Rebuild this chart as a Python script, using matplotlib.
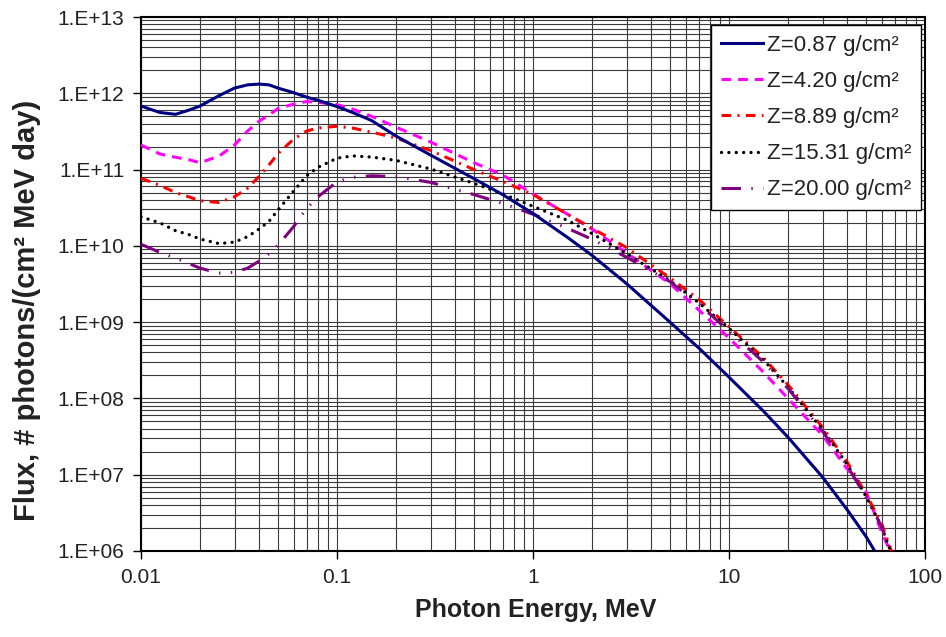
import numpy as np
import matplotlib as mpl
mpl.use('Agg')
import matplotlib.pyplot as plt
from matplotlib.ticker import LogLocator, FuncFormatter, NullFormatter

mpl.rcParams['font.family'] = ['Liberation Sans', 'DejaVu Sans']
mpl.rcParams['lines.scale_dashes'] = False

# Photon energy, MeV
energy = [0.01, 0.0125, 0.015, 0.0175, 0.02, 0.025, 0.03, 0.035, 0.04, 0.045, 0.05, 0.06, 0.07, 0.08,
          0.1, 0.12, 0.15, 0.2, 0.3, 0.5, 0.7, 1, 1.5, 2, 3, 5, 7, 10, 15, 20, 30, 40, 50, 60, 70]

# Flux, photons/(cm2 MeV day)
flux_087 = [6.8e11, 5.6e11, 5.3e11, 6.0e11, 6.8e11, 9.3e11, 1.17e12, 1.29e12, 1.32e12, 1.29e12, 1.17e12,
            1.02e12, 8.9e11, 8.1e11, 6.7e11, 5.6e11, 4.4e11, 2.75e11, 1.55e11, 7.6e10, 4.7e10, 2.66e10,
            1.29e10, 7.5e9, 3.2e9, 1.0e9, 4.6e8, 1.9e8, 6.8e7, 3.1e7, 9.3e6, 3.5e6, 1.55e6, 7.1e5, 3.2e5]
flux_420 = [2.1e11, 1.6e11, 1.45e11, 1.35e11, 1.23e11, 1.5e11, 2.1e11, 3.2e11, 4.3e11, 5.2e11, 6.3e11,
            7.2e11, 7.8e11, 7.6e11, 7.1e11, 6.2e11, 5.0e11, 3.6e11, 2.3e11, 1.23e11, 8.5e10, 4.8e10,
            2.6e10, 1.66e10, 8.1e9, 3.2e9, 1.45e9, 6.2e8, 2.2e8, 1.0e8, 3.3e7, 1.2e7, 6.0e6, 1.8e6, 7.2e5]
flux_889 = [7.7e10, 6.2e10, 5.0e10, 4.4e10, 3.9e10, 3.7e10, 4.4e10, 5.7e10, 8.1e10, 1.15e11, 1.62e11,
            2.5e11, 3.2e11, 3.5e11, 3.7e11, 3.5e11, 3.1e11, 2.6e11, 1.78e11, 1.0e11, 7.0e10, 4.7e10,
            2.6e10, 1.7e10, 9.5e9, 3.8e9, 2.0e9, 8.7e8, 3.4e8, 1.51e8, 4.2e7, 1.48e7, 5.6e6, 2.3e6, 7.6e5]
flux_1531 = [2.4e10, 2.0e10, 1.58e10, 1.41e10, 1.23e10, 1.07e10, 1.12e10, 1.32e10, 1.66e10, 2.1e10, 2.95e10,
             5.2e10, 8.3e10, 1.07e11, 1.41e11, 1.51e11, 1.46e11, 1.32e11, 1.02e11, 6.6e10, 4.8e10, 3.3e10,
             2.16e10, 1.45e10, 7.9e9, 3.5e9, 1.8e9, 8.3e8, 3.2e8, 1.41e8, 3.9e7, 1.38e7, 5.2e6, 2.1e6, 7.1e5]
flux_2000 = [1.05e10, 8.2e9, 6.9e9, 5.9e9, 5.1e9, 4.4e9, 4.5e9, 5.1e9, 6.3e9, 7.9e9, 1.02e10,
             1.78e10, 3.1e10, 4.4e10, 6.9e10, 7.9e10, 8.3e10, 8.1e10, 6.8e10, 4.7e10, 3.6e10, 2.6e10,
             1.7e10, 1.22e10, 7.1e9, 3.4e9, 1.74e9, 7.6e8, 3.0e8, 1.35e8, 3.7e7, 1.32e7, 5.1e6, 2.1e6, 6.9e5]

labels = ['Z=0.87 g/cm\u00b2', 'Z=4.20 g/cm\u00b2', 'Z=8.89 g/cm\u00b2',
          'Z=15.31 g/cm\u00b2', 'Z=20.00 g/cm\u00b2']

#
# Plot
#
fig = plt.figure(figsize=(9.46, 6.37), dpi=100)
ax = fig.add_axes([141 / 946, 1 - 551 / 637, 784 / 946, 534 / 637])

lw = 2.2
ax.plot(energy, flux_087, color='#000080', lw=lw, label=labels[0], zorder=5)
ax.plot(energy, flux_420, color='#ff00ff', lw=lw, dashes=(7, 5), label=labels[1], zorder=4)
ax.plot(energy, flux_889, color='#ff0000', lw=lw, dashes=(7, 4.5, 1.5, 4.5), label=labels[2], zorder=4)
ax.plot(energy, flux_1531, color='black', lw=2.4, dashes=(0.01, 5.3), dash_capstyle='round',
        label=labels[3], zorder=4)
ax.plot(energy, flux_2000, color='#800080', lw=lw, dashes=(14, 7.5, 1, 7.5, 1, 7.5), label=labels[4], zorder=4)

ax.set_xscale('log')
ax.set_yscale('log')
ax.set_xlim(0.01, 100)
ax.set_ylim(1e6, 1e13)

ax.xaxis.set_major_locator(LogLocator(base=10, numticks=10))
ax.xaxis.set_minor_locator(LogLocator(base=10, subs=range(2, 10), numticks=50))
ax.yaxis.set_major_locator(LogLocator(base=10, numticks=10))
ax.yaxis.set_minor_locator(LogLocator(base=10, subs=range(2, 10), numticks=50))
ax.xaxis.set_major_formatter(FuncFormatter(lambda v, p: '{:g}'.format(v)))
ax.yaxis.set_major_formatter(FuncFormatter(lambda v, p: '1.E+{:02d}'.format(int(round(np.log10(v))))))
ax.xaxis.set_minor_formatter(NullFormatter())
ax.yaxis.set_minor_formatter(NullFormatter())

ax.tick_params(which='major', direction='out', length=6, width=1, labelsize=15, colors='black', pad=6)
ax.tick_params(which='minor', length=0)
for lab in ax.get_xticklabels() + ax.get_yticklabels():
    lab.set_color('#222222')

ax.grid(which='both', color='#3a3a3a', lw=0.8)
ax.set_axisbelow(True)
for s in ax.spines.values():
    s.set_color('black')
    s.set_linewidth(1.5)

ax.set_xlabel('Photon Energy, MeV', fontsize=18, fontweight='bold', color='#222222')
ax.set_ylabel('Flux, # photons/(cm\u00b2 MeV day)', fontsize=21, fontweight='bold', color='#222222')
ax.xaxis.set_label_coords(0.503, -0.088)
ax.yaxis.set_label_coords(-0.127, 0.45)

leg = ax.legend(loc='upper right', bbox_to_anchor=(0.995, 0.985), borderaxespad=0, fontsize=16,
                handlelength=1.9, handletextpad=0.15, labelspacing=0.68, borderpad=0.45,
                fancybox=False, framealpha=1, edgecolor='black')
leg.get_frame().set_linewidth(1.0)
for t in leg.get_texts():
    t.set_color('#222222')

fig.savefig('out.png', dpi=100)
plt.close()
